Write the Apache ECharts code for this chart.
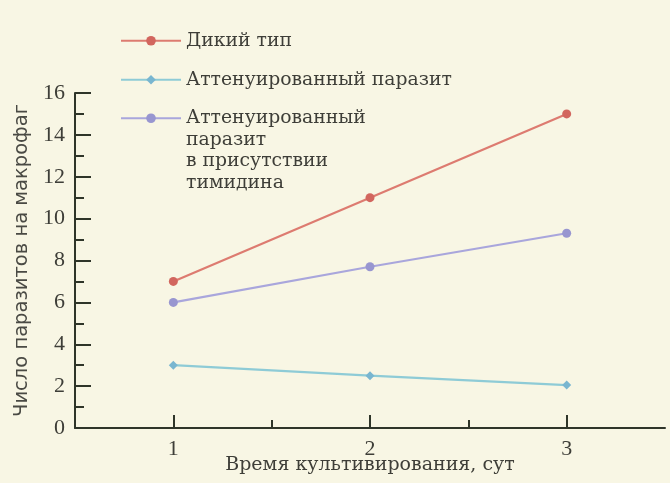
<!DOCTYPE html>
<html>
<head>
<meta charset="utf-8">
<script src="https://cdn.jsdelivr.net/npm/echarts@6/dist/echarts.min.js"></script>
<style>
  html, body { margin: 0; padding: 0; background: #f8f6e4; }
  #chart { width: 670px; height: 483px; }
</style>
</head>
<body>
<div id="chart"></div>
<script>
// данные графика
const days = [1, 2, 3]
const halfDays = [1.5, 2.5]
const wildType = [7, 11, 15]
const attenuated = [3, 2.5, 2.05]
const attenuatedThymidine = [6, 7.7, 9.3]

const seriesNames = [
  'Дикий тип',
  'Аттенуированный паразит',
  'Аттенуированный\nпаразит\nв присутствии\nтимидина'
]
const colors = ['#dd7b70', '#8ecbd6', '#a9a6dc']
const markerColors = ['#d2665e', '#79b6d0', '#9896d0']

const axisColor = '#2f3529'
const textColor = '#3e3e38'
const serif = '"Liberation Serif", "DejaVu Serif", serif'
const wideSerif = '"DejaVu Serif", serif'

function pairs (ys) {
  return days.map((d, i) => [d, ys[i]])
}

const chart = echarts.init(document.getElementById('chart'))

function makeSeries (idx, ys, symbol, size) {
  return {
    name: seriesNames[idx],
    type: 'line',
    data: pairs(ys),
    symbol: symbol,
    symbolSize: size,
    lineStyle: { color: colors[idx], width: 2.2 },
    itemStyle: { color: markerColors[idx] },
    emphasis: { disabled: true }
  }
}

function makeLegend (idx, top, formatter) {
  return {
    data: [seriesNames[idx]],
    left: 120,
    top: top,
    padding: 0,
    itemWidth: 60,
    itemHeight: 12,
    formatter: formatter || '{name}',
    textStyle: { fontFamily: wideSerif, fontSize: 18.8, color: textColor, lineHeight: 21.5 }
  }
}

const option = {
  backgroundColor: '#f8f6e4',
  animation: false,
  grid: { left: 75, right: 5, top: 93, bottom: 55, outerBoundsMode: 'none' },
  legend: [
    makeLegend(0, 30),
    makeLegend(1, 69),
    // пустые строки сверху, чтобы значок стоял у первой строки
    makeLegend(2, 43, name => '\n\n\n' + name)
  ],
  xAxis: [
    {
      type: 'value',
      min: 0.5,
      max: 3.5,
      name: 'Время культивирования, сут',
      nameLocation: 'middle',
      nameGap: 28,
      nameMoveOverlap: false,
      nameTextStyle: { fontFamily: wideSerif, fontSize: 19, color: textColor },
      axisLine: { lineStyle: { color: axisColor, width: 2 } },
      axisTick: { inside: true, length: 13, customValues: days, lineStyle: { color: axisColor, width: 2 } },
      axisLabel: { customValues: days, margin: 10, fontFamily: serif, fontSize: 22, color: textColor },
      splitLine: { show: false }
    },
    {
      // короткие промежуточные деления
      type: 'value',
      position: 'bottom',
      min: 0.5,
      max: 3.5,
      axisLine: { show: false },
      axisTick: { inside: true, length: 8, customValues: halfDays, lineStyle: { color: axisColor, width: 2 } },
      axisLabel: { show: false },
      splitLine: { show: false }
    }
  ],
  yAxis: {
    type: 'value',
    min: 0,
    max: 16,
    interval: 2,
    name: 'Число паразитов на макрофаг',
    nameLocation: 'middle',
    nameRotate: 90,
    nameGap: 43,
    nameTextStyle: { fontFamily: '"DejaVu Sans", sans-serif', fontSize: 19.5, color: '#4a4a44' },
    axisLine: { show: true, lineStyle: { color: axisColor, width: 2 } },
    axisTick: { show: true, inside: true, length: 16, lineStyle: { color: axisColor, width: 2 } },
    minorTick: { show: true, splitNumber: 2, length: 9, lineStyle: { color: axisColor, width: 2 } },
    axisLabel: { margin: 10, padding: [3, 0, 0, 0], fontFamily: serif, fontSize: 22, color: textColor },
    splitLine: { show: false }
  },
  series: [
    makeSeries(0, wildType, 'circle', 9),
    makeSeries(1, attenuated, 'diamond', 9),
    makeSeries(2, attenuatedThymidine, 'circle', 9)
  ]
}

chart.setOption(option)
</script>
</body>
</html>
